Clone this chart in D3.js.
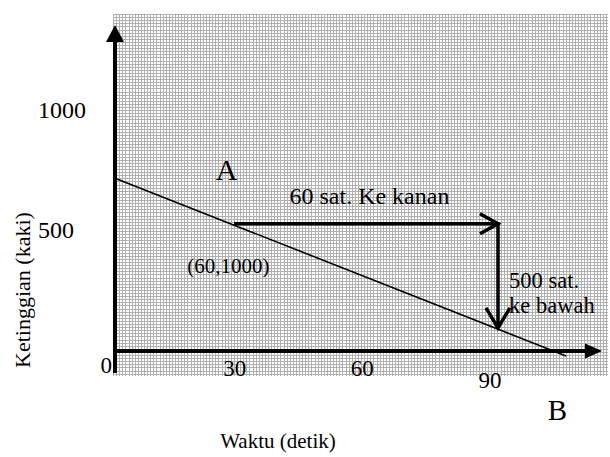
<!DOCTYPE html>
<html>
<head>
<meta charset="utf-8">
<script src="https://cdn.jsdelivr.net/npm/d3@7"></script>
<style>
    body { margin: 0; background: #fff; }
    text { font-family: "Liberation Serif", "Times New Roman", serif; fill: #000; }
</style>
</head>
<body>
<div id="chart"></div>
<script>

// Chart data
// ============================================
var xTicks = [30, 60, 90];
var yTicks = [500, 1000];
var originLabel = "0";

// the descending line (time, height)
var lineTimes = [0, 106];
var lineHeights = [720, -21];

// the "rise over run" arrow: right, then down
var arrowTimes = [28, 90, 90];
var arrowHeights = [530, 530, 96];

// annotations placed in data units
var noteLabels = ["A", "60 sat. Ke kanan", "(60,1000)", "500 sat.", "ke bawah", "B"];
var noteTimes = [23.7, 41, 17, 92.6, 92.6, 101.7];
var noteHeights = [712, 612, 325, 262, 158, -287];
var noteSizes = [30, 24, 21, 22.5, 22.5, 29];

var xTitle = "Waktu (detik)";
var yTitle = "Ketinggian (kaki)";

// Set up the chart
// ================================
var svgWidth = 610;
var svgHeight = 457;

var svg = d3.select("#chart")
    .append("svg")
    .attr("width", svgWidth)
    .attr("height", svgHeight);

// Scales
// ================================
var xScale = d3.scaleLinear().domain([0, 90]).range([115, 498]);
var yScale = d3.scaleLinear().domain([0, 1000]).range([351, 111]);

// Graph paper background
// ================================
var grid = { left: 113, right: 608, top: 14, bottom: 376, step: 3.1 };
var gridGroup = svg.append("g")
    .attr("stroke", "#b0b0b0")
    .attr("stroke-width", 1)
    .attr("shape-rendering", "crispEdges");

gridGroup.selectAll("line.v")
    .data(d3.range(grid.left, grid.right, grid.step))
    .enter()
    .append("line")
    .attr("class", "v")
    .attr("x1", d => Math.round(d) + 0.5)
    .attr("x2", d => Math.round(d) + 0.5)
    .attr("y1", grid.top)
    .attr("y2", grid.bottom);

gridGroup.selectAll("line.h")
    .data(d3.range(grid.top, grid.bottom, grid.step))
    .enter()
    .append("line")
    .attr("class", "h")
    .attr("y1", d => Math.round(d) + 0.5)
    .attr("y2", d => Math.round(d) + 0.5)
    .attr("x1", grid.left)
    .attr("x2", grid.right);

// Axes with arrow heads
// ================================
var x0 = xScale(0);
var y0 = yScale(0);

svg.append("line")
    .attr("x1", x0).attr("x2", x0)
    .attr("y1", y0 + 22).attr("y2", 40)
    .attr("stroke", "#000")
    .attr("stroke-width", 4);

svg.append("path")
    .attr("d", `M${x0},25 L${x0 - 9},42 L${x0 + 9},42 Z`)
    .attr("fill", "#000");

svg.append("line")
    .attr("x1", x0 - 2).attr("x2", 587)
    .attr("y1", y0).attr("y2", y0)
    .attr("stroke", "#000")
    .attr("stroke-width", 4);

svg.append("path")
    .attr("d", `M602,${y0} L585,${y0 - 7.5} L585,${y0 + 7.5} Z`)
    .attr("fill", "#000");

// Tick labels
// ================================
svg.append("g")
    .selectAll("text")
    .data(xTicks)
    .enter()
    .append("text")
    .attr("x", d => xScale(d) - 8)
    .attr("y", (d, i) => y0 + (i === 2 ? 37 : 25))
    .attr("text-anchor", "middle")
    .attr("font-size", 23)
    .text(d => d);

svg.append("g")
    .selectAll("text")
    .data(yTicks)
    .enter()
    .append("text")
    .attr("x", 38)
    .attr("y", d => yScale(d) + 7)
    .attr("font-size", 24)
    .text(d => d);

svg.append("text")
    .attr("x", x0 - 3)
    .attr("y", y0 + 22)
    .attr("text-anchor", "end")
    .attr("font-size", 23)
    .text(originLabel);

// Descending line
// ================================
var lineData = lineTimes.map((t, i) => [t, lineHeights[i]]);
var lineGen = d3.line()
    .x(d => xScale(d[0]))
    .y(d => yScale(d[1]));

svg.append("path")
    .datum(lineData)
    .attr("d", lineGen)
    .attr("fill", "none")
    .attr("stroke", "#000")
    .attr("stroke-width", 1.6);

// Rise / run arrow with open heads
// ================================
var arrowData = arrowTimes.map((t, i) => [t, arrowHeights[i]]);
svg.append("path")
    .datum(arrowData)
    .attr("d", lineGen)
    .attr("fill", "none")
    .attr("stroke", "#000")
    .attr("stroke-width", 3.5);

var corner = arrowData[1];
var cx = xScale(corner[0]);
var cy = yScale(corner[1]);
svg.append("path")
    .attr("d", `M${cx - 18},${cy - 10} L${cx},${cy} L${cx - 18},${cy + 10}`)
    .attr("fill", "none")
    .attr("stroke", "#000")
    .attr("stroke-width", 3.5);

var tip = arrowData[2];
var tx = xScale(tip[0]);
var ty = yScale(tip[1]);
svg.append("path")
    .attr("d", `M${tx - 12},${ty - 20} L${tx},${ty} L${tx + 12},${ty - 20}`)
    .attr("fill", "none")
    .attr("stroke", "#000")
    .attr("stroke-width", 3.5);

// Annotations
// ================================
svg.append("g")
    .selectAll("text")
    .data(noteLabels)
    .enter()
    .append("text")
    .attr("x", (d, i) => xScale(noteTimes[i]))
    .attr("y", (d, i) => yScale(noteHeights[i]))
    .attr("font-size", (d, i) => noteSizes[i])
    .text(d => d);

// Axis titles
// ================================
svg.append("text")
    .attr("x", 278)
    .attr("y", 448)
    .attr("text-anchor", "middle")
    .attr("font-size", 21)
    .text(xTitle);

svg.append("text")
    .attr("transform", "translate(30, 290) rotate(-90)")
    .attr("text-anchor", "middle")
    .attr("font-size", 22)
    .text(yTitle);

</script>
</body>
</html>
